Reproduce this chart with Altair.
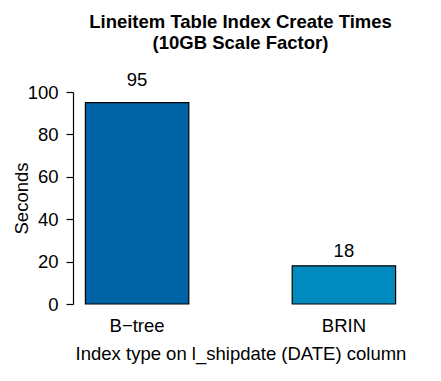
import altair as alt
import pandas as pd

index_types = ["B\u2212tree", "BRIN"]
seconds = [95, 18]
bar_colors = ["#0063A6", "#008ABF"]

df = pd.DataFrame({"index": index_types, "seconds": seconds})

FONT = "Liberation Sans"
FS = 18.5

base = alt.Chart(df)

bars = base.mark_bar(stroke="black", strokeWidth=1.2).encode(
    x=alt.X(
        "index:N",
        sort=index_types,
        scale=alt.Scale(paddingInner=0.5, paddingOuter=0.06),
        axis=alt.Axis(
            title="Index type on l_shipdate (DATE) column",
            labelAngle=0,
            domain=False,
            ticks=False,
            labelPadding=12,
            labelFontSize=FS,
            labelColor="black",
            labelFont=FONT,
            titleFont=FONT,
            titleFontSize=FS,
            titleFontWeight="normal",
            titleColor="black",
            titlePadding=10,
        ),
    ),
    y=alt.Y(
        "seconds:Q",
        scale=alt.Scale(domain=[0, 100], nice=False),
        axis=alt.Axis(
            title="Seconds",
            values=[0, 20, 40, 60, 80, 100],
            grid=False,
            domainColor="black",
            domainWidth=1.2,
            tickColor="black",
            tickWidth=1.2,
            tickSize=7,
            labelPadding=8,
            labelFontSize=FS,
            labelColor="black",
            labelFont=FONT,
            titleFont=FONT,
            titleFontSize=FS,
            titleFontWeight="normal",
            titleColor="black",
            titleX=-46,
            titleBaseline="alphabetic",
        ),
    ),
    color=alt.Color(
        "index:N",
        sort=index_types,
        scale=alt.Scale(domain=index_types, range=bar_colors),
        legend=None,
    ),
)

labels = base.transform_calculate(
    label_pos="datum.seconds * 1.05"
).mark_text(
    font=FONT, fontSize=FS, color="black", baseline="alphabetic", dy=-7, clip=False
).encode(
    x=alt.X("index:N", sort=index_types),
    y=alt.Y("label_pos:Q"),
    text=alt.Text("seconds:Q"),
)

chart = (
    alt.layer(bars, labels)
    .properties(
        width=335,
        height=212,
        autosize=alt.AutoSizeParams(type="none"),
        padding={"left": 65, "top": 84, "right": 25, "bottom": 69},
        title=alt.TitleParams(
            text=["Lineitem Table Index Create Times", "(10GB Scale Factor)"],
            font=FONT,
            fontSize=FS,
            fontWeight="bold",
            color="black",
            anchor="middle",
            frame="group",
            lineHeight=21,
            offset=18,
        ),
    )
    .configure_view(stroke=None)
)

chart.save("out.html", embed_options={"renderer": "svg", "actions": False})
